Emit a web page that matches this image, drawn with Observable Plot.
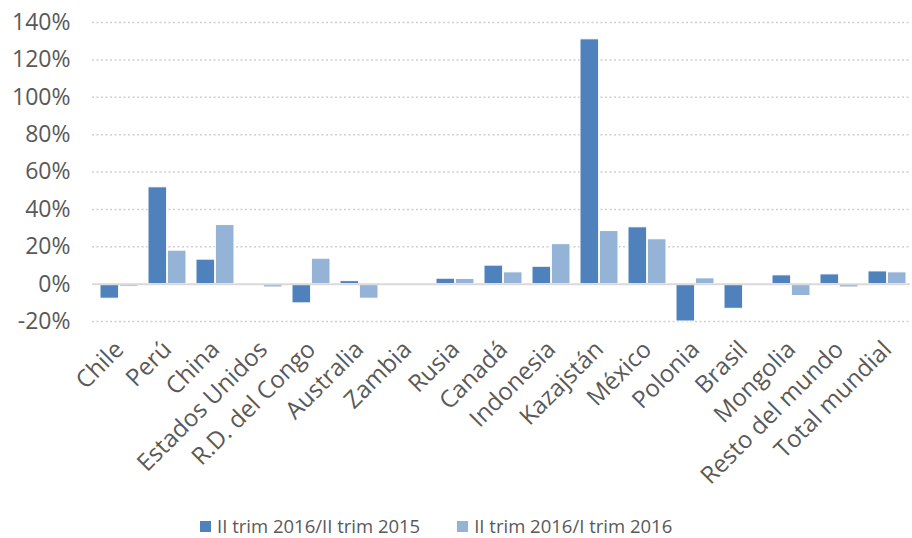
<!DOCTYPE html>
<html>
<head>
<meta charset="utf-8">
<script src="https://cdn.jsdelivr.net/npm/d3@7"></script>
<script src="https://cdn.jsdelivr.net/npm/@observablehq/plot@0.6"></script>
<style>
  body { margin: 0; background: #fff; font-family: "Open Sans", sans-serif; }
  #chart svg { display: block; }
  #legend { display: flex; justify-content: flex-start; align-items: center; gap: 37px; font-size: 18.5px; line-height: 22px; color: #595959; margin-top: 15px; padding-left: 200px; }
  .item { display: flex; align-items: center; }
  .sw { width: 11px; height: 11px; margin-right: 6px; display: inline-block; }
</style>
</head>
<body>
<div id="chart"></div>
<div id="legend"></div>
<script>
const categories = ["Chile","Perú","China","Estados Unidos","R.D. del Congo","Australia","Zambia","Rusia","Canadá","Indonesia","Kazajstán","México","Polonia","Brasil","Mongolia","Resto del mundo","Total mundial"];
const serieInteranual = [-7.8, 51.8, 13.1, 0, -10.3, 1.6, 0, 2.9, 9.9, 9.3, 131, 30.4, -20, -13.2, 4.7, 5.2, 6.8];
const serieTrimestral = [-1.4, 17.9, 31.6, -1.8, 13.6, -7.8, 0, 2.8, 6.3, 21.4, 28.4, 24.0, 3.1, -0.3, -6.4, -1.8, 6.3];
const seriesNames = ["II trim 2016/II trim 2015", "II trim 2016/I trim 2016"];
const colors = ["#4F81BD", "#95B3D7"];
const yTicks = [-20, 0, 20, 40, 60, 80, 100, 120, 140];

const width = 912, marginLeft = 92, marginRight = 2, insetL = 5, padIn = 0.2;
const step = (width - marginLeft - marginRight - insetL) / (categories.length - padIn);
const half = step * (1 - padIn) / 2;

const d1 = categories.map((c, i) => ({pais: c, valor: serieInteranual[i]}));
const d2 = categories.map((c, i) => ({pais: c, valor: serieTrimestral[i]}));

const chart = Plot.plot({
  width, height: 500,
  marginTop: 22, marginBottom: 179, marginLeft, marginRight,
  style: {fontFamily: "Open Sans", fontSize: "23px", color: "#595959", background: "#fff"},
  x: {domain: categories, paddingInner: padIn, paddingOuter: 0, insetLeft: insetL, insetRight: 0},
  y: {domain: [-20, 140]},
  marks: [
    Plot.gridY(yTicks.filter(d => d !== 0), {stroke: "#d0d0d0", strokeOpacity: 1, strokeWidth: 1.5, strokeDasharray: "2,2.5"}),
    Plot.axisY(yTicks, {tickFormat: d => d + "%", label: null, tickSize: 0, tickPadding: 22, fontSize: 23}),
    Plot.axisX({label: null, tickSize: 0, tickRotate: -45, tickPadding: 24, fontSize: 24}),
    Plot.barY(d1, {x: "pais", y: "valor", fill: colors[0], stroke: "#fff", strokeWidth: 1, insetRight: half}),
    Plot.barY(d2, {x: "pais", y: "valor", fill: colors[1], stroke: "#fff", strokeWidth: 1, insetLeft: half}),
    Plot.ruleY([0], {stroke: "#d9d9d9", strokeWidth: 2})
  ]
});
document.getElementById("chart").append(chart);

const legend = document.getElementById("legend");
seriesNames.forEach((n, i) => {
  const it = document.createElement("div");
  it.className = "item";
  const sw = document.createElement("span");
  sw.className = "sw";
  sw.style.background = colors[i];
  const t = document.createElement("span");
  t.textContent = n;
  it.append(sw, t);
  legend.append(it);
});
</script>
</body>
</html>
